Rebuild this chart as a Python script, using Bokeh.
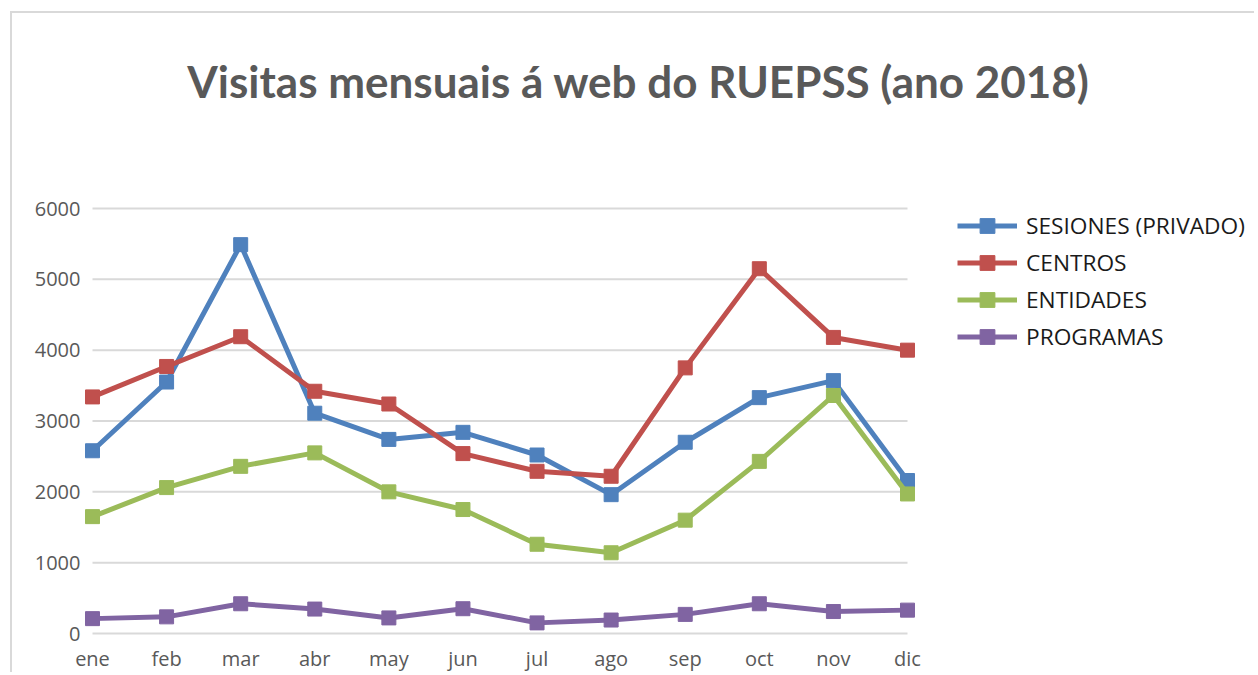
from bokeh.plotting import figure
from bokeh.models import FixedTicker, Legend, LegendItem, Label, Range1d
from bokeh.embed import file_html
from bokeh.resources import INLINE

# ---- data ----
months = ["ene", "feb", "mar", "abr", "may", "jun", "jul", "ago", "sep", "oct", "nov", "dic"]
sesiones = [2580, 3550, 5490, 3110, 2740, 2840, 2520, 1960, 2700, 3330, 3570, 2160]
centros = [3340, 3770, 4190, 3420, 3240, 2540, 2290, 2220, 3750, 5150, 4180, 4000]
entidades = [1650, 2060, 2360, 2550, 2000, 1750, 1260, 1140, 1600, 2430, 3360, 1970]
programas = [210, 235, 420, 345, 220, 350, 150, 190, 270, 420, 310, 330]
series_names = ["SESIONES (PRIVADO)", "CENTROS", "ENTIDADES", "PROGRAMAS"]
series_colors = ["#4F81BD", "#C0504D", "#9BBB59", "#8064A2"]
y_ticks = [0, 1000, 2000, 3000, 4000, 5000, 6000]
title_text = "Visitas mensuais á web do RUEPSS (ano 2018)"

series = [sesiones, centros, entidades, programas]
xs = list(range(len(months)))

# ---- layout (page pixels) ----
OX, OY = 12, 13                  # canvas origin on the page
W, H = 1244, 661
FL, FR, FT, FB = 81, OX + W, 20, 637   # frame edges on page
PX0, PX1 = 92, 907               # first / last category
PY0, PY1 = 633, 208              # 0 / top tick

ux = (PX1 - PX0) / (xs[-1] - xs[0])
uy = (PY0 - PY1) / (y_ticks[-1] - y_ticks[0])
x_start = xs[0] - (PX0 - FL) / ux
x_end = xs[0] + (FR - PX0) / ux
y_start = y_ticks[0] - (FB - PY0) / uy
y_end = y_ticks[0] + (PY0 - FT) / uy

p = figure(width=W, height=H, output_backend="svg", toolbar_location=None,
           x_range=Range1d(x_start, x_end), y_range=Range1d(y_start, y_end),
           min_border_left=FL - OX, min_border_right=0,
           min_border_top=FT - OY, min_border_bottom=H - (FB - OY))
p.margin = (OY - 2, 0, 0, OX - 2)
p.styles = {"border-left": "2px solid #d9d9d9", "border-top": "2px solid #d9d9d9"}
p.outline_line_color = None
p.background_fill_color = "white"
p.border_fill_color = "white"
p.xgrid.visible = False
p.ygrid.visible = False

# gridlines limited to the category span
p.segment(x0=[xs[0]] * len(y_ticks), x1=[xs[-1]] * len(y_ticks), y0=y_ticks, y1=y_ticks,
          line_color="#d9d9d9", line_width=2, level="underlay")

items = []
for name, vals, col in zip(series_names, series, series_colors):
    lr = p.line(xs, vals, line_color=col, line_width=5, line_join="round")
    sr = p.scatter(xs, vals, marker="square", size=14, fill_color=col, line_color=col)
    items.append(LegendItem(label=name, renderers=[lr, sr]))

# axes
p.xaxis.ticker = FixedTicker(ticks=xs)
p.xaxis.major_label_overrides = {i: m for i, m in enumerate(months)}
p.yaxis.ticker = FixedTicker(ticks=y_ticks)
for ax in (p.xaxis, p.yaxis):
    ax.axis_line_color = None
    ax.major_tick_line_color = None
    ax.minor_tick_line_color = None
    ax.major_label_text_font = "Open Sans"
    ax.major_label_text_font_size = "20px"
    ax.major_label_text_color = "#595959"
p.xaxis.major_label_standoff = 1
p.yaxis.major_label_standoff = -5

legend = Legend(items=items, location=(957 - FL, FB - 355), orientation="vertical",
                glyph_width=60, glyph_height=37, spacing=0, label_standoff=9,
                padding=0, margin=0, border_line_color=None,
                background_fill_alpha=0,
                label_text_font="Open Sans", label_text_font_size="22.7px",
                label_text_color="#1a1a1a")
p.add_layout(legend, "center")

p.add_layout(Label(x=638 - FL, y=FB - 80, x_units="screen", y_units="screen", text=title_text,
                   text_align="center", text_baseline="alphabetic",
                   text_font="Lato", text_font_style="bold",
                   text_font_size="44px", text_color="#595959"))

open("out.html", "w").write(file_html(p, INLINE))
